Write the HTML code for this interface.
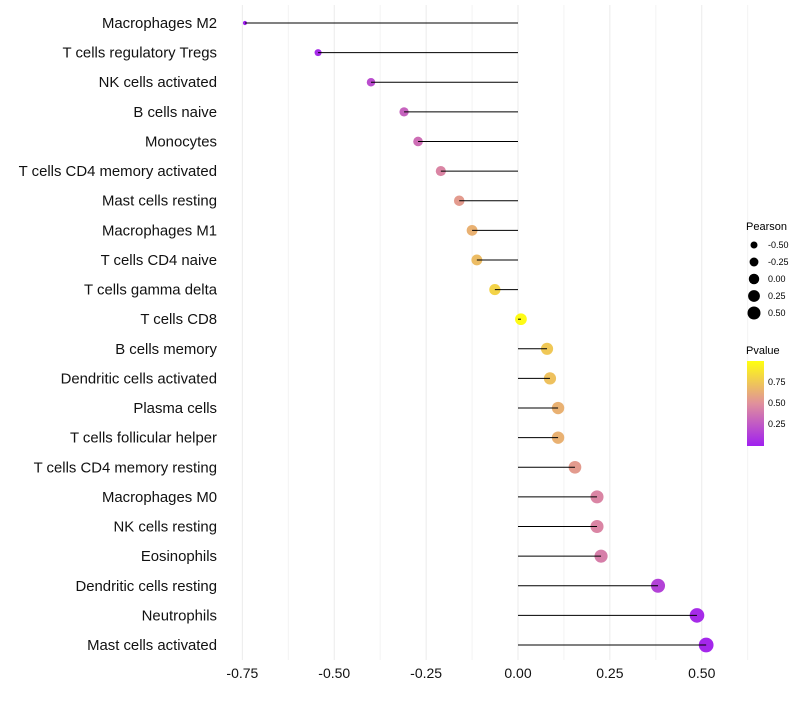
<!DOCTYPE html>
<html><head><meta charset="utf-8"><style>
body{margin:0;background:#fff;font-family:"Liberation Sans",sans-serif}
svg text{font-family:"Liberation Sans",sans-serif}
</style></head><body>
<svg id="c" width="800" height="700">
<defs><linearGradient id="pg" x1="0" y1="1" x2="0" y2="0">
<stop offset="0" stop-color="#A020F0"/><stop offset="0.5" stop-color="#E0909C"/><stop offset="1" stop-color="#FFFF10"/>
</linearGradient></defs>
<g id="grid"></g><g id="marks"></g><g id="labels"></g>
<g font-size="10">
<text x="746" y="230" font-size="11">Pearson</text>
<g id="sizeleg"></g>
<text x="746" y="354" font-size="11">Pvalue</text>
<rect x="747" y="361" width="17" height="85" fill="url(#pg)"/>
<text x="768" y="385" font-size="9">0.75</text>
<text x="768" y="406" font-size="9">0.50</text>
<text x="768" y="427" font-size="9">0.25</text>
</g>
</svg>
<script>
const categories=["Macrophages M2","T cells regulatory  Tregs","NK cells activated","B cells naive","Monocytes","T cells CD4 memory activated","Mast cells resting","Macrophages M1","T cells CD4 naive","T cells gamma delta","T cells CD8","B cells memory","Dendritic cells activated","Plasma cells","T cells follicular helper","T cells CD4 memory resting","Macrophages M0","NK cells resting","Eosinophils","Dendritic cells resting","Neutrophils","Mast cells activated"];
const pearson=[-0.743,-0.544,-0.40,-0.31,-0.272,-0.21,-0.16,-0.125,-0.112,-0.063,0.008,0.079,0.087,0.109,0.109,0.155,0.215,0.215,0.226,0.381,0.487,0.512];
const pvalue=[0.0,0.05,0.2,0.3,0.35,0.45,0.55,0.65,0.7,0.8,0.98,0.75,0.72,0.65,0.65,0.55,0.45,0.45,0.42,0.15,0.05,0.03];
const xTicks=[-0.75,-0.5,-0.25,0,0.25,0.5];
const xTickLabels=["-0.75","-0.50","-0.25","0.00","0.25","0.50"];
const sizeLegend=[-0.5,-0.25,0,0.25,0.5];
const sizeLegendLabels=["-0.50","-0.25","0.00","0.25","0.50"];
const NS="http://www.w3.org/2000/svg";
const X=v=>518+v*367.5;
const Y=i=>23+i*(622/21);
const R=v=>Math.sqrt(Math.max(34+40*v,2.5));
const RL=v=>Math.sqrt(Math.max(27.25+30*v,2));
function lerp(a,b,t){return a.map((x,i)=>Math.round(x+(b[i]-x)*t));}
function col(p){const s=[[160,32,240],[224,144,156],[255,255,16]];const c=p<0.5?lerp(s[0],s[1],p/0.5):lerp(s[1],s[2],(p-0.5)/0.5);return `rgb(${c})`;}
function mk(t,a,parent){const e=document.createElementNS(NS,t);for(const k in a)e.setAttribute(k,a[k]);parent.appendChild(e);return e;}
const grid=document.getElementById('grid'),marks=document.getElementById('marks'),labels=document.getElementById('labels');
for(let k=0;k<=11;k++){const v=-0.75+k*0.125;const g=mk('line',{x1:X(v),x2:X(v),y1:5,y2:660,stroke:k%2?'#f3f3f3':'#ebebeb','stroke-width':1},grid);

}
xTicks.forEach((v,i)=>{const t=mk('text',{x:X(v),y:678,'text-anchor':'middle','font-size':14,fill:'#111'},labels);t.textContent=xTickLabels[i];

});
categories.forEach((c,i)=>{
const t=mk('text',{x:217,y:Y(i)+5,'text-anchor':'end','font-size':14.9,fill:'#111'},labels);t.textContent=c;


const p=mk('circle',{cx:X(pearson[i]),cy:Y(i),r:R(pearson[i]),fill:col(pvalue[i])},marks);


const l=mk('line',{x1:X(0),x2:X(pearson[i]),y1:Y(i),y2:Y(i),stroke:'#000','stroke-width':1},marks);


});
const sl=document.getElementById('sizeleg');
sizeLegend.forEach((v,i)=>{const y=245+i*17;
const c=mk('circle',{cx:754,cy:y,r:RL(v),fill:'#000'},sl);


const t=mk('text',{x:768,y:y+3,'font-size':9},sl);t.textContent=sizeLegendLabels[i];

});
</script>
</body></html>
